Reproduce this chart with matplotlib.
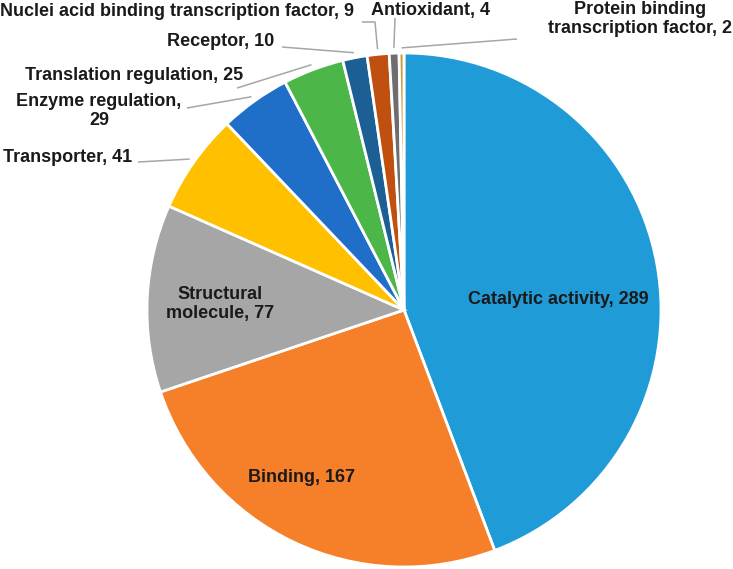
import numpy as np
import matplotlib
matplotlib.use("Agg")
import matplotlib.pyplot as plt

W, H = 733, 569

categories = ["Catalytic activity", "Binding", "Structural molecule", "Transporter",
              "Enzyme regulation", "Translation regulation", "Receptor",
              "Nuclei acid binding transcription factor", "Antioxidant",
              "Protein binding transcription factor"]
counts = [289, 167, 77, 41, 29, 25, 10, 9, 4, 2]
colors = ["#1F9BD7", "#F6802A", "#A6A6A6", "#FFC000", "#1F6EC8",
          "#4CB748", "#1B5F95", "#C0500F", "#6E6E6E", "#C9A13A"]

plt.rcParams['font.family'] = ['Liberation Sans', 'DejaVu Sans']

fig = plt.figure(figsize=(W / 100, H / 100), dpi=100)
ax = fig.add_axes([0, 0, 1, 1])

wedges, _ = ax.pie(counts, colors=colors, startangle=90, counterclock=False,
                   radius=1, center=(0, 0),
                   wedgeprops=dict(edgecolor="white", linewidth=2))

# pie centre sits at (404, 310) px of the reference, radius 257 px
cx, cy, r = 404, 310, 257
ax.set_xlim(-cx / r, (W - cx) / r)
ax.set_ylim(-(H - cy) / r, cy / r)
ax.set_aspect("equal")
ax.axis("off")


def px(x, y):
    # reference pixel (top-left origin) -> data coords
    return (x - cx) / r, (cy - y) / r


def text_at(x, y, s, ha="center"):
    fig.text(x / W, 1 - y / H, s, ha=ha, va="center", fontsize=13,
             fontweight="bold", color="#1a1a1a", multialignment="center",
             linespacing=1.15)


def label(i):
    return f"{categories[i]}, {counts[i]}"


# labels inside the slices
text_at(558, 300, label(0))
text_at(301, 478, label(1))
text_at(220, 304, "Structural\nmolecule, 77")

# outside labels: text position, anchor, leader path start points
outside = {
    3: dict(pos=(3, 157), ha="left", path=[(138, 162)]),
    4: dict(pos=(99, 111), ha="center", path=[(187, 108)]),
    5: dict(pos=(25, 76), ha="left", path=[(237, 88)]),
    6: dict(pos=(167, 42), ha="left", path=[(282, 47)]),
    7: dict(pos=(0, 11), ha="left", path=[(362, 22), (375, 22)]),
    8: dict(pos=(371, 11), ha="left", path=[(395, 18)]),
    9: dict(pos=(640, 19), ha="center", path=[(517, 39)]),
}
texts = {4: "Enzyme regulation,\n29", 9: "Protein binding\ntranscription factor, 2"}

for i, o in outside.items():
    text_at(*o["pos"], texts.get(i, label(i)), ha=o["ha"])
    w = wedges[i]
    mid = np.deg2rad((w.theta1 + w.theta2) / 2)
    pts = [px(*p) for p in o["path"]] + [(1.02 * np.cos(mid), 1.02 * np.sin(mid))]
    xs, ys = zip(*pts)
    ax.plot(xs, ys, color="#A6A6A6", lw=1.1, solid_capstyle="butt")

fig.savefig("out.png", dpi=100)
